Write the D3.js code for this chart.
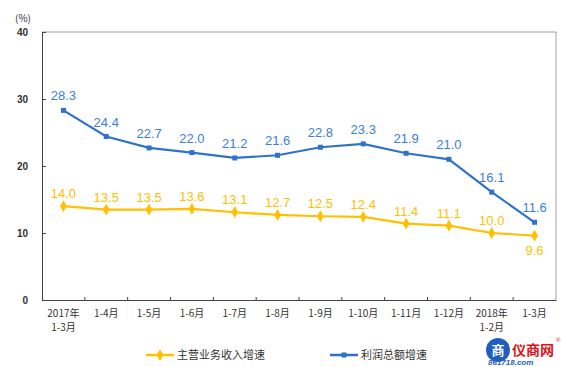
<!DOCTYPE html>
<html><head><meta charset="utf-8">
<script src="https://cdn.jsdelivr.net/npm/d3@7"></script>
<style>body{margin:0;background:#fff}svg{display:block}</style>
</head><body>
<svg id="c" width="564" height="367"></svg>
<script>
const categories = ["2017年\n1-3月","1-4月","1-5月","1-6月","1-7月","1-8月","1-9月","1-10月","1-11月","1-12月","2018年\n1-2月","1-3月"];
const revenueGrowth = [14.0,13.5,13.5,13.6,13.1,12.7,12.5,12.4,11.4,11.1,10.0,9.6];
const profitGrowth = [28.3,24.4,22.7,22.0,21.2,21.6,22.8,23.3,21.9,21.0,16.1,11.6];
const yTicks = [0,10,20,30,40];
const seriesNames = ["主营业务收入增速","利润总额增速"];

const svg = d3.select("#c");
const L=42, R=556, T=32, B=300;
const yellow="#FFC000", blue="#2F73C9", blueText="#3B7FD8";
const x = d3.scaleBand().domain(categories).range([L,R]);
const y = d3.scaleLinear().domain([0,40]).range([B,T]);
const cx = d => x(d)+x.bandwidth()/2;

// frame
svg.append("line").attr("x1",L).attr("x2",R).attr("y1",T).attr("y2",T).attr("stroke","#a0a0a0");
svg.append("line").attr("x1",R).attr("x2",R).attr("y1",T).attr("y2",B).attr("stroke","#a0a0a0");

// y axis
const ya = svg.append("g").attr("transform",`translate(${L},0)`)
  .call(d3.axisLeft(y).tickValues(yTicks).tickSize(-4).tickPadding(14));
ya.select(".domain").attr("stroke","#444");
ya.selectAll(".tick line").attr("stroke","#444");
ya.selectAll("text").attr("font-family","Liberation Sans, Arial").attr("font-size",10).attr("font-weight","bold").attr("fill","#333");

// x axis
const xa = svg.append("g").attr("transform",`translate(0,${B})`)
  .call(d3.axisBottom(x).tickSize(0).tickFormat(""));
xa.select(".domain").attr("stroke","#444");
const bounds = categories.slice(1).map(c=>x(c));
svg.selectAll(".xt").data(bounds).enter().append("line")
  .attr("x1",d=>d).attr("x2",d=>d).attr("y1",B).attr("y2",B-3).attr("stroke","#444");
const xl = svg.selectAll(".xl").data(categories).enter().append("text")
  .attr("x",d=>cx(d)).attr("y",B+17).attr("text-anchor","middle")
  .attr("font-family","Noto Sans CJK SC").attr("font-size",10).attr("fill","#333");
xl.each(function(d){
  const parts=d.split("\n"); const t=d3.select(this);
  parts.forEach((p,i)=>t.append("tspan").attr("x",cx(d)).attr("dy",i?14:0).text(p));
});

svg.append("text").attr("x",23).attr("y",22).attr("text-anchor","middle")
  .attr("font-family","Noto Sans CJK SC").attr("font-size",10).attr("fill","#333").text("(%)");

const line = d3.line().x((d,i)=>cx(categories[i])).y(d=>y(d));
// yellow series
svg.append("path").datum(revenueGrowth).attr("d",line).attr("fill","none").attr("stroke",yellow).attr("stroke-width",2.2);
const diamond = d3.symbol().type(d3.symbolDiamond).size(40);
svg.selectAll(".yd").data(revenueGrowth).enter().append("path")
  .attr("d",diamond).attr("transform",(d,i)=>`translate(${cx(categories[i])},${y(d)})`).attr("fill",yellow);
svg.selectAll(".yl").data(revenueGrowth).enter().append("text")
  .attr("x",(d,i)=>cx(categories[i])).attr("y",(d,i)=> i===revenueGrowth.length-1 ? y(d)+19 : y(d)-8)
  .attr("text-anchor","middle").attr("font-family","Liberation Sans, Arial").attr("font-size",13)
  .attr("fill",yellow).text(d=>d.toFixed(1));

// blue series
svg.append("path").datum(profitGrowth).attr("d",line).attr("fill","none").attr("stroke",blue).attr("stroke-width",2.2);
svg.selectAll(".bd").data(profitGrowth).enter().append("rect")
  .attr("x",(d,i)=>cx(categories[i])-2.5).attr("y",d=>y(d)-2.5).attr("width",5).attr("height",5).attr("fill",blue);
svg.selectAll(".bl").data(profitGrowth).enter().append("text")
  .attr("x",(d,i)=>cx(categories[i])).attr("y",d=>y(d)-10)
  .attr("text-anchor","middle").attr("font-family","Liberation Sans, Arial").attr("font-size",13)
  .attr("fill",blueText).text(d=>d.toFixed(1));

// legend
const lg = [{c:yellow,x:146,n:seriesNames[0],m:"d"},{c:blue,x:330,n:seriesNames[1],m:"s"}];
lg.forEach(o=>{
  const yy=355;
  svg.append("line").attr("x1",o.x).attr("x2",o.x+28).attr("y1",yy).attr("y2",yy).attr("stroke",o.c).attr("stroke-width",2.5);
  if(o.m==="d") svg.append("path").attr("d",diamond).attr("transform",`translate(${o.x+14},${yy})`).attr("fill",o.c);
  else svg.append("rect").attr("x",o.x+11.5).attr("y",yy-2.5).attr("width",5).attr("height",5).attr("fill",o.c);
  svg.append("text").attr("x",o.x+31).attr("y",yy+4).attr("font-family","Noto Sans CJK SC").attr("font-size",11).attr("fill","#333").text(o.n);
});

// watermark logo
const wm = svg.append("g");
wm.append("circle").attr("cx",498).attr("cy",350).attr("r",12).attr("fill","#1f5fc0");
wm.append("text").attr("x",498).attr("y",355).attr("text-anchor","middle").attr("font-family","Noto Sans CJK SC").attr("font-size",13).attr("font-weight","bold").attr("fill","#fff").text("商");
wm.append("text").attr("x",512).attr("y",355).attr("font-family","Noto Sans CJK SC").attr("font-size",14).attr("font-weight","bold").attr("fill","#d9151b").text("仪商网");
wm.append("text").attr("x",556).attr("y",342).attr("font-family","Liberation Sans, Arial").attr("font-size",6).attr("fill","#d9151b").text("®");
wm.append("text").attr("x",488).attr("y",365).attr("font-family","Liberation Sans, Arial").attr("font-size",8).attr("font-style","italic").attr("font-weight","bold").attr("fill","#1f5fc0").text("861718.com");
</script>
</body></html>
